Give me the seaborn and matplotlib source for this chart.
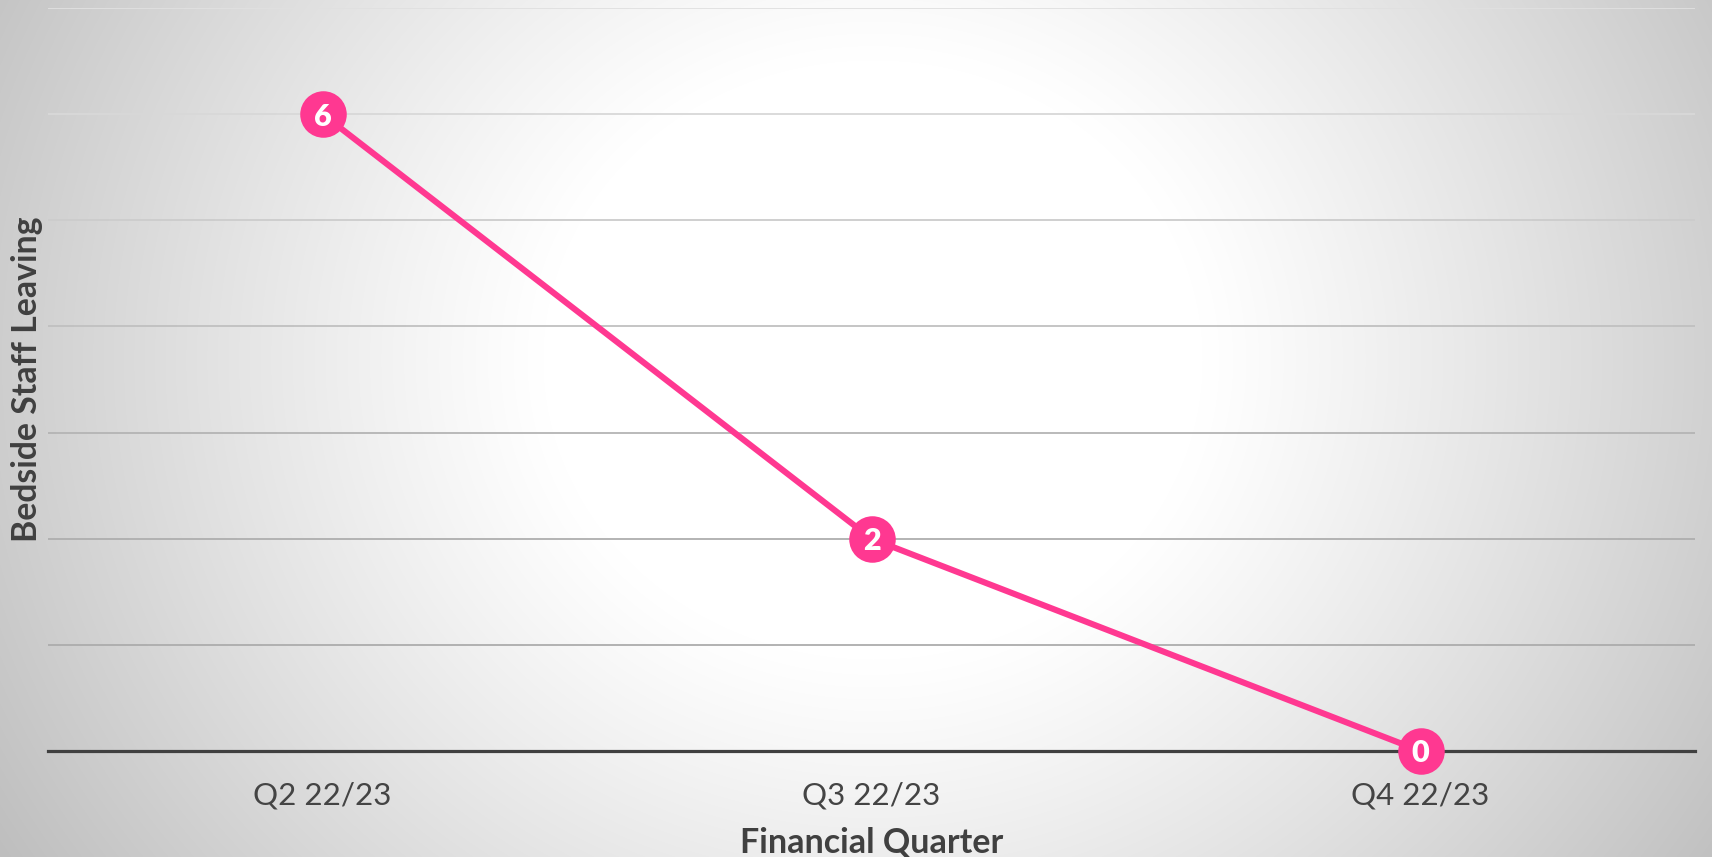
import numpy as np
import pandas as pd
import matplotlib
matplotlib.use("Agg")
import matplotlib.pyplot as plt
import seaborn as sns

quarters = ["Q2 22/23", "Q3 22/23", "Q4 22/23"]
staff_leaving = [6, 2, 0]
x_title = "Financial Quarter"
y_title = "Bedside Staff Leaving"

sns.set_theme(style="white")
plt.rcParams['font.family'] = ['Lato', 'DejaVu Sans']

W, H, DPI = 1712, 857, 100
fig = plt.figure(figsize=(W / DPI, H / DPI), dpi=DPI)

# radial gradient background
bg = fig.add_axes([0, 0, 1, 1], zorder=-10)
yy, xx = np.mgrid[0:H, 0:W]
r = np.hypot(xx - 873, (yy - 360) * 1.1)
t = np.clip((r - 330) / 700, 0, 1) ** 1.1
v = (255 - 65 * t) / 255.0
img = np.dstack([v, v, v])
bg.imshow(img, aspect="auto", extent=[0, 1, 0, 1], origin="upper")
bg.set_axis_off()

ax = fig.add_axes([48 / W, 1 - 751 / H, (1695 - 48) / W, (751 - 8) / H])
ax.patch.set_alpha(0)

df = pd.DataFrame({"quarter": quarters, "value": staff_leaving})
color = "#FF3891"
sns.lineplot(data=df, x="quarter", y="value", ax=ax, color=color, lw=4.4,
             marker="o", markersize=33.5, markeredgewidth=0, sort=False, zorder=5)

for i, v_ in enumerate(staff_leaving):
    ax.text(i, v_, str(v_), ha="center", va="center_baseline", color="white",
            fontsize=22, fontweight="heavy", zorder=6)

ax.set_xlim(-0.5, len(quarters) - 0.5)
ax.set_ylim(0, 7)
ax.set_yticks(range(0, 8))
ax.set_yticklabels([])
ax.tick_params(axis="y", length=0)
ax.tick_params(axis="x", length=0, labelsize=22.5, labelcolor="#444444", pad=22)
ax.grid(axis="y", color="#B4B4B4", lw=1.3)
ax.grid(axis="x", visible=False)
grid_cols = ["#B0B0B0", "#ACACAC", "#AEAEAE", "#B4B4B4", "#C0C0C0", "#CCCCCC", "#D8D8D8", "#E0E0E0"]
for gl, c in zip(ax.yaxis.get_gridlines(), grid_cols):
    gl.set_color(c)
for s in ["top", "right", "left"]:
    ax.spines[s].set_visible(False)
ax.spines["bottom"].set_color("#404040")
ax.spines["bottom"].set_linewidth(2.3)
ax.spines["bottom"].set_zorder(4)
for ln in ax.lines:
    ln.set_clip_on(False)

ax.set_xlabel(x_title, fontsize=24.5, fontweight="bold", color="#404040", labelpad=12)
ax.set_ylabel(y_title, fontsize=24.3, fontweight="bold", color="#404040")
ax.yaxis.set_label_coords(-5 / (1695 - 48), 0.5)

fig.savefig("out.png", dpi=DPI)
